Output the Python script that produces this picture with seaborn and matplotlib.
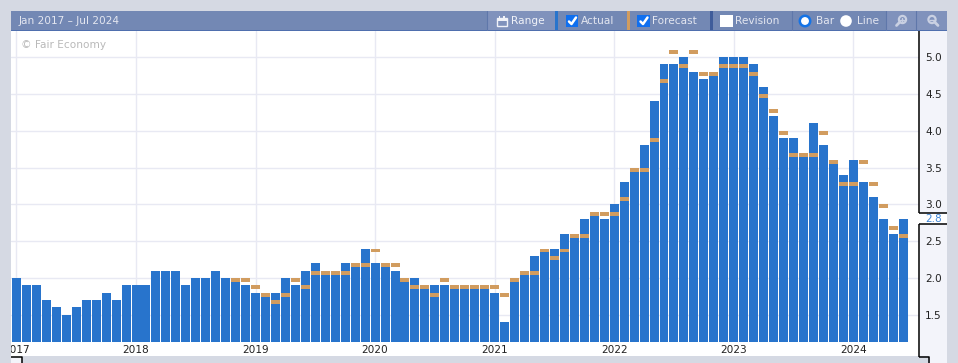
import numpy as np
import pandas as pd
import matplotlib
matplotlib.use('Agg')
import matplotlib.pyplot as plt
import seaborn as sns
from matplotlib.patches import Rectangle, Circle

# Valores mes a mes, enero 2017 - junio 2024
actual = [
    2.0, 1.9, 1.9, 1.7, 1.6, 1.5, 1.6, 1.7, 1.7, 1.8, 1.7, 1.9,  # 2017
    1.9, 1.9, 2.1, 2.1, 2.1, 1.9, 2.0, 2.0, 2.1, 2.0, 2.0, 1.9,  # 2018
    1.8, 1.8, 1.8, 2.0, 1.9, 2.1, 2.2, 2.1, 2.1, 2.2, 2.2, 2.4,  # 2019
    2.2, 2.2, 2.1, 2.0, 2.0, 1.9, 1.9, 1.9, 1.9, 1.9, 1.9, 1.9,  # 2020
    1.8, 1.4, 2.0, 2.1, 2.3, 2.4, 2.4, 2.6, 2.6, 2.8, 2.9, 2.8,  # 2021
    3.0, 3.3, 3.5, 3.8, 4.4, 4.9, 4.9, 5.0, 4.8, 4.7, 4.8, 5.0,  # 2022
    5.0, 5.0, 4.9, 4.6, 4.2, 3.9, 3.9, 3.7, 4.1, 3.8, 3.6, 3.4,  # 2023
    3.6, 3.3, 3.1, 2.8, 2.6, 2.8,                                # 2024
]
forecast = [np.nan] * 22 + [
    2.0, 2.0,
    1.9, 1.8, 1.7, 1.8, 2.0, 1.9, 2.1, 2.1, 2.1, 2.1, 2.2, 2.2,
    2.4, 2.2, 2.2, 2.0, 1.9, 1.9, 1.8, 2.0, 1.9, 1.9, 1.9, 1.9,
    1.9, 1.8, 2.0, 2.1, 2.1, 2.4, 2.3, 2.4, 2.6, 2.6, 2.9, 2.9,
    2.9, 3.1, 3.5, 3.5, 3.9, 4.7, 5.1, 4.9, 5.1, 4.8, 4.8, 4.9,
    4.9, 4.9, 4.8, 4.5, 4.3, 4.0, 3.7, 3.7, 3.7, 4.0, 3.6, 3.3,
    3.3, 3.6, 3.3, 3.0, 2.7, 2.6,
]
years = ['2017', '2018', '2019', '2020', '2021', '2022', '2023', '2024']
y_ticks = [1.5, 2.0, 2.5, 3.0, 3.5, 4.0, 4.5, 5.0]

meses = pd.date_range('2017-01-01', periods=len(actual), freq='MS').strftime('%Y-%m')
df = pd.DataFrame({'mes': meses, 'actual': actual, 'forecast': forecast})

W, H = 958, 363
BLUE, ORANGE = '#2874cc', '#d19c5f'
GRID = '#e8e9f3'
BG = '#d5d9e3'
HEADER = '#7388b4'
PANEL = '#8092bc'
LIGHT = '#f3f4fa'
TXT = '#e3e6f0'
FS = 7.6

sns.set_theme(style='white')
plt.rcParams['font.family'] = ['DejaVu Sans']

fig = plt.figure(figsize=(W / 100, H / 100), dpi=100, facecolor='white')


def capa(z):
    # capa en coordenadas de pixel para el marco del widget
    c = fig.add_axes([0, 0, 1, 1], zorder=z)
    c.set_xlim(0, W)
    c.set_ylim(H, 0)
    c.axis('off')
    return c


back = capa(0)
front = capa(2)


def rect(c, x0, y0, x1, y1, color, **kw):
    c.add_patch(Rectangle((x0, y0), x1 - x0, y1 - y0, facecolor=color, edgecolor='none', **kw))


# Grafico principal
ax = fig.add_axes([11 / W, 1 - 342 / H, 908 / W, 311 / H], zorder=1)
ax.patch.set_alpha(0)
sns.barplot(data=df, x='mes', y='actual', color=BLUE, saturation=1, width=0.9, linewidth=0, ax=ax)
alto = 0.054
ax.bar(range(len(df)), alto, bottom=df['forecast'] - alto, width=0.9, color=ORANGE, linewidth=0)

ax.set_xlim(-0.55, 90.6)
ax.set_ylim(1.13, 5.355)
ax.set_xticks(range(0, len(df), 12))
ax.set_xticklabels(years)
ax.set_yticks(y_ticks)
ax.set_yticklabels([f'{v:.1f}' for v in y_ticks])
ax.set_xlabel('')
ax.set_ylabel('')
ax.yaxis.tick_right()
ax.grid(True, color=GRID, linewidth=1)
ax.set_axisbelow(True)
sns.despine(ax=ax, left=True, right=True, top=True, bottom=True)
ax.tick_params(axis='x', length=0, pad=2.5, labelsize=FS, labelcolor='#222222')
ax.tick_params(axis='y', length=0, pad=4.5, labelsize=FS, labelcolor='#222222')

# Fondo de la escala derecha
rect(back, 920, 31, 947, 356, LIGHT)
rect(back, 920, 213, 947, 224, 'white')

# Margenes grises y cabecera
rect(front, 0, 0, 11, H, BG)
rect(front, 947, 0, W, H, BG)
rect(front, 0, 0, W, 11, BG)
rect(front, 22, 356, 930, H, BG)
rect(front, 11, 356, 22, H, LIGHT)
rect(front, 930, 356, 947, H, LIGHT)
rect(front, 11, 11, 947, 30, HEADER)
rect(front, 11, 30, 947, 31, '#4f6fae')

# Linea negra de la escala
linea = dict(color='black', linewidth=1.1, solid_capstyle='butt')
front.plot([919.5, 919.5], [31, 213], **linea)
front.plot([919.5, 919.5], [224, 356.5], **linea)
front.plot([919, 947], [213, 213], **linea)
front.plot([919, 947], [224, 224], **linea)
front.plot([919, 929.5, 929.5], [356.5, 356.5, H], **linea)
front.plot([11, 22, 22], [356.5, 356.5, H], **linea)
front.text(925, 218.5, '2.8', color='#3f86d8', fontsize=FS, va='center', ha='left')
front.text(21, 44.5, '© Fair Economy', color='#b9b9b9', fontsize=FS, va='center', ha='left')

# Botones de la cabecera
rect(front, 487, 11, 555, 30, PANEL)
rect(front, 886, 11, 947, 30, PANEL)
rect(front, 555, 11, 558, 30, BLUE)
rect(front, 627, 11, 630, 30, ORANGE)
rect(front, 710, 11, 713, 30, '#3f5c9a')
for sx in [487, 792, 886, 916]:
    front.plot([sx, sx], [11, 30], color='#5f77aa', linewidth=0.8)

front.text(19, 21, 'Jan 2017 – Jul 2024', color=TXT, fontsize=FS, va='center', ha='left')
front.text(511, 21, 'Range', color='#f0f2f8', fontsize=FS, va='center', ha='left')
front.text(581, 21, 'Actual', color=TXT, fontsize=FS, va='center', ha='left')
front.text(652, 21, 'Forecast', color=TXT, fontsize=FS, va='center', ha='left')
front.text(735, 21, 'Revision', color=TXT, fontsize=FS, va='center', ha='left')
front.text(816, 21, 'Bar', color=TXT, fontsize=FS, va='center', ha='left')
front.text(857, 21, 'Line', color=TXT, fontsize=FS, va='center', ha='left')

# Casillas
for cx, relleno in [(566, '#0f6fef'), (637.5, '#0f6fef'), (720.5, 'white')]:
    rect(front, cx, 15, cx + 12.5, 27, relleno)
    if relleno != 'white':
        front.plot([cx + 3, cx + 5.5, cx + 10], [21.5, 24, 17.5], color='white', linewidth=1.8)

# Radios
front.add_patch(Circle((805, 21), 5.2, facecolor='white', edgecolor='#1473e6', linewidth=1.8))
front.add_patch(Circle((846, 21), 5.8, facecolor='white', edgecolor='none'))

# Icono de calendario
front.add_patch(Rectangle((497, 18), 10, 8, facecolor='none', edgecolor='#f0f2f8', linewidth=1))
rect(front, 497, 18, 507, 21, '#f0f2f8')
rect(front, 499, 15.5, 500.5, 18, '#f0f2f8')
rect(front, 503.5, 15.5, 505, 18, '#f0f2f8')

# Lupas
for cx in [902.5, 932]:
    front.add_patch(Circle((cx, 19.5), 3.6, facecolor='none', edgecolor='#c9d0e2', linewidth=1.6))
    front.plot([cx + (-2.6 if cx < 920 else 2.6), cx + (-6 if cx < 920 else 6)], [22, 25.5],
               color='#c9d0e2', linewidth=2)
    front.plot([cx - 2, cx + 2], [19.5, 19.5], color='#c9d0e2', linewidth=1)
front.plot([902.5, 902.5], [17.5, 21.5], color='#c9d0e2', linewidth=1)

fig.savefig('out.png', dpi=100, facecolor=fig.get_facecolor())
